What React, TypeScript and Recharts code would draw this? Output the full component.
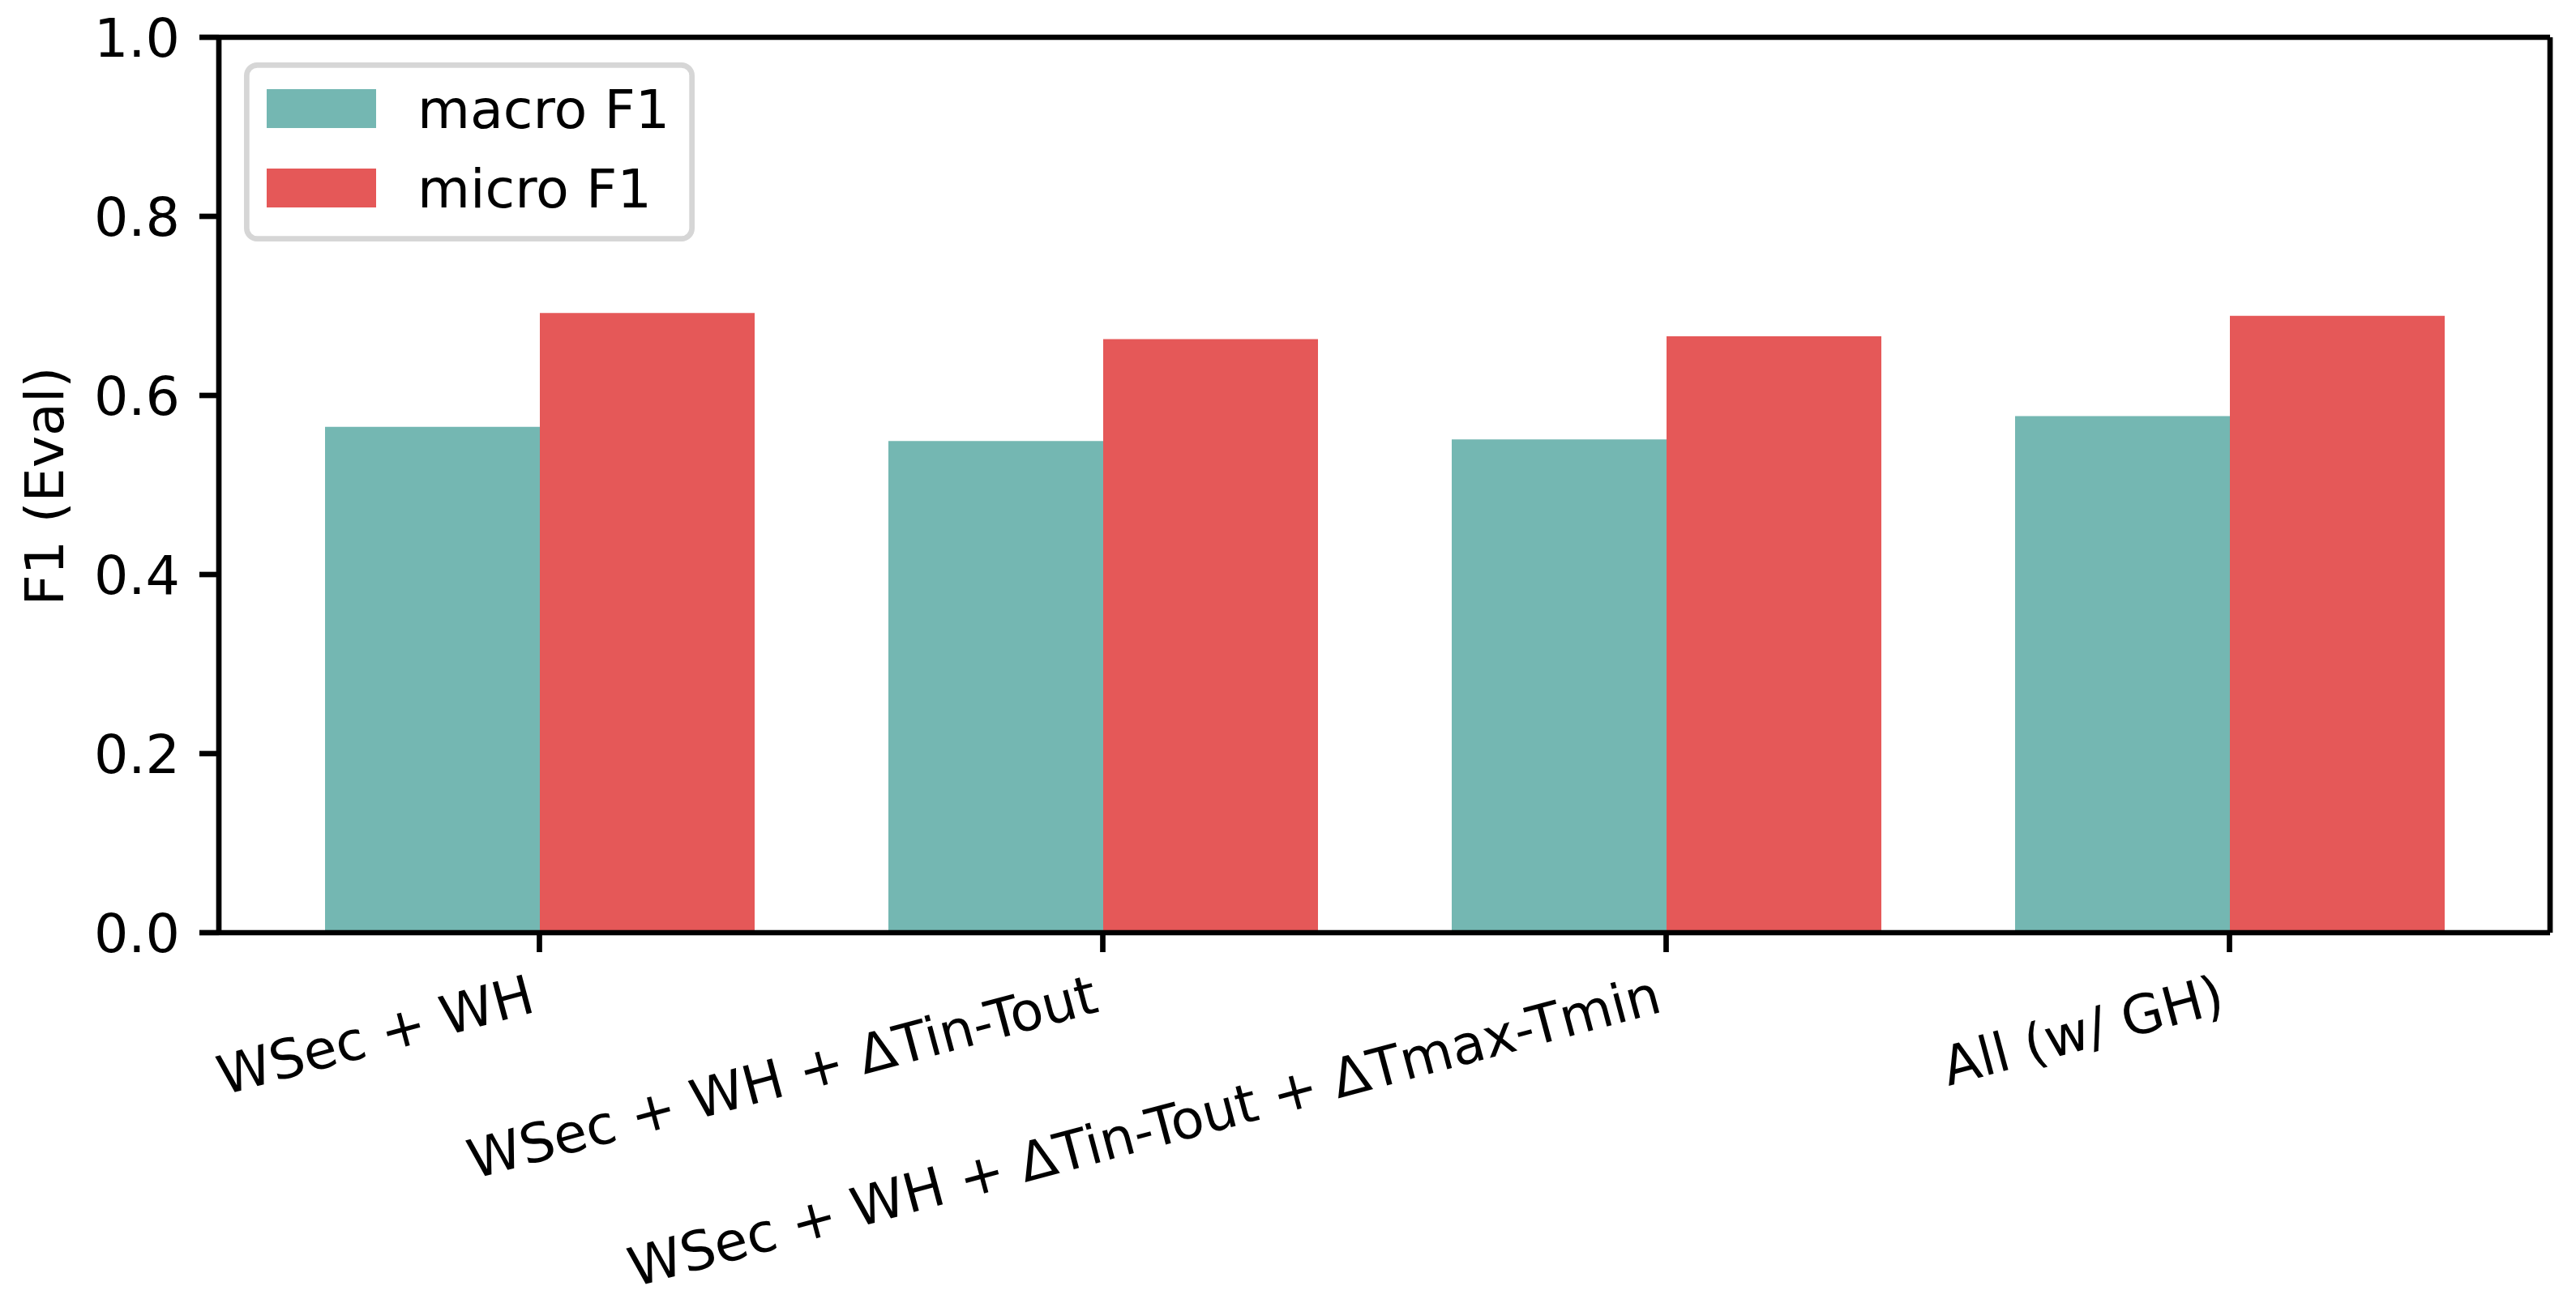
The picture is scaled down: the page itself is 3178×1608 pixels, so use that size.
import { BarChart, Bar, XAxis, YAxis, Legend, ReferenceLine } from "recharts";

const categories = [
  "WSec + WH",
  "WSec + WH + ΔTin-Tout",
  "WSec + WH + ΔTin-Tout + ΔTmax-Tmin",
  "All (w/ GH)",
];
const macroF1 = [0.565, 0.549, 0.551, 0.577];
const microF1 = [0.692, 0.663, 0.666, 0.689];
const yTicks = [0, 0.2, 0.4, 0.6, 0.8, 1.0];

const FONT = "DejaVu Sans";
const FS = 66.7;
const LW = 6.7;
const TEAL = "#74B7B2";
const RED = "#E55858";

const data = categories.map((name, i) => ({
  name,
  macro: macroF1[i],
  micro: microF1[i],
}));

// rotated x labels, right end anchored at the tick (like ha="right", rotation=15)
function XTick({ x, y, payload }: any) {
  return (
    <g transform={`translate(${x - 3},${y + 73}) rotate(-15)`}>
      <text x={0} y={0} textAnchor="end" fontSize={FS} fontFamily={FONT} fill="#000">
        {payload.value}
      </text>
    </g>
  );
}

function YLabel() {
  return (
    <text
      x={78}
      y={600}
      transform="rotate(-90, 78, 600)"
      textAnchor="middle"
      fontSize={FS}
      fontFamily={FONT}
      fill="#000"
    >
      F1 (Eval)
    </text>
  );
}

function LegendBox({ payload }: any) {
  const items = payload || [];
  return (
    <svg width={556} height={221} style={{ display: "block" }}>
      <rect
        x={LW / 2}
        y={LW / 2}
        width={556 - LW}
        height={221 - LW}
        rx={13}
        fill="#fff"
        stroke="#d6d6d6"
        strokeWidth={LW}
      />
      {items.map((it: any, i: number) => (
        <g key={it.value}>
          <rect x={28} y={33 + i * 98} width={135} height={48} fill={it.color} />
          <text x={214} y={81 + i * 98} fontSize={FS} fontFamily={FONT} fill="#000">
            {it.value}
          </text>
        </g>
      ))}
    </svg>
  );
}

export default function App() {
  return (
    <div
      style={{
        position: "absolute",
        left: 0,
        top: 0,
        width: 3178,
        height: 1608,
        background: "#fff",
      }}
    >
      <BarChart
        width={3178}
        height={1608}
        data={data}
        margin={{ top: 46, right: 0, bottom: 0, left: 0 }}
        barCategoryGap={83}
        barGap={0}
      >
        <XAxis
          dataKey="name"
          height={457}
          interval={0}
          padding={{ left: 48, right: 48 }}
          axisLine={{ stroke: "#000", strokeWidth: LW }}
          tickLine={{ stroke: "#000", strokeWidth: LW }}
          tickSize={24}
          tickMargin={0}
          tick={<XTick />}
        />
        <YAxis
          width={270}
          domain={[0, 1]}
          ticks={yTicks}
          interval={0}
          tickFormatter={(v: number) => v.toFixed(1)}
          axisLine={{ stroke: "#000", strokeWidth: LW }}
          tickLine={{ stroke: "#000", strokeWidth: LW }}
          tickSize={24}
          tickMargin={24}
          tick={{ fill: "#000", fontSize: FS, fontFamily: FONT }}
          label={<YLabel />}
        />
        <YAxis
          yAxisId="right"
          orientation="right"
          width={32}
          domain={[0, 1]}
          tick={false}
          tickLine={false}
          axisLine={{ stroke: "#000", strokeWidth: LW }}
        />
        {/* top spine */}
        <ReferenceLine y={1} stroke="#000" strokeWidth={LW} />
        <Legend
          layout="vertical"
          align="center"
          verticalAlign="middle"
          wrapperStyle={{ left: 301, top: 77, width: 556, height: 221 }}
          content={<LegendBox />}
        />
        <Bar dataKey="macro" name="macro F1" fill={TEAL} isAnimationActive={false} />
        <Bar dataKey="micro" name="micro F1" fill={RED} isAnimationActive={false} />
      </BarChart>
    </div>
  );
}
